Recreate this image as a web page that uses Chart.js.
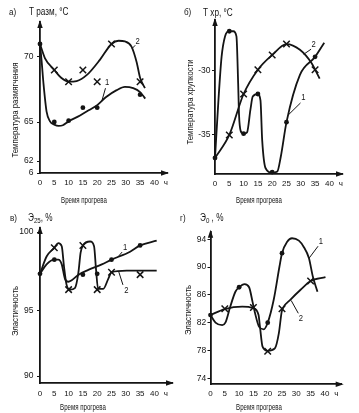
<!DOCTYPE html>
<html>
<head>
<meta charset="utf-8">
<script src="https://cdn.jsdelivr.net/npm/chart.js@4.4.1/dist/chart.umd.min.js"></script>
<style>
html,body{margin:0;padding:0;background:#fff;}
#wrap{position:relative;width:359px;height:413px;overflow:hidden;background:#fff;}
#wrap canvas{position:absolute;left:0;top:0;}
</style>
</head>
<body>
<div id="wrap">
<canvas id="cA" width="359" height="413"></canvas>
<canvas id="cB" width="359" height="413"></canvas>
<canvas id="cC" width="359" height="413"></canvas>
<canvas id="cD" width="359" height="413"></canvas>
</div>
<script>
// ---------- DATA ----------
const xTickVals = [0, 5, 10, 15, 20, 25, 30, 35, 40, 44];
const xTickText = ['0', '5', '10', '15', '20', '25', '30', '35', '40', 'ч'];

// а) Т разм
const aYTicks = [61.08, 62, 65, 70];
const aYText = ['6', '62', '65', '70'];
const aDotsX = [0, 5, 10, 15, 20, 35];
const aDotsY = [71.0, 65.0, 65.1, 66.1, 66.1, 67.1];
const aCrossX = [5, 10, 15, 20, 25, 35];
const aCrossY = [69.0, 68.1, 69.0, 68.1, 71.0, 68.1];
const aLine1X = [0, 0.6, 1.2, 2.3, 3.5, 5, 6.5, 8, 10, 14, 17, 20, 23, 26.8, 29.7, 32.6, 35, 36.8];
const aLine1Y = [71.0, 69.6, 68.0, 65.8, 65.05, 64.8, 64.7, 64.75, 65.05, 65.5, 65.9, 66.3, 66.9, 67.45, 67.7, 67.6, 67.3, 66.8];
const aLine2X = [0, 1.75, 5, 7.4, 10, 12.8, 16.3, 21, 25, 27.5, 29.7, 32, 33.8, 35, 36.7];
const aLine2Y = [71.0, 69.9, 69.0, 68.4, 68.1, 68.15, 68.6, 69.8, 71.0, 71.25, 71.2, 70.8, 69.6, 68.4, 67.6];

// б) Т хр
const bYTicks = [-35, -30];
const bYText = ['-35', '-30'];
const bDotsX = [0, 5, 10, 15, 20, 25, 35];
const bDotsY = [-36.8, -26.9, -34.9, -31.8, -37.9, -34.0, -28.9];
const bCrossX = [5, 10, 15, 20, 25, 35];
const bCrossY = [-35.0, -31.8, -29.9, -28.75, -27.9, -29.9];
const bLine1X = [0, 1.2, 2.3, 3.5, 5, 6.4, 7.5, 8.1, 8.4, 9, 10, 11.2, 12.4, 13.2, 15, 15.9, 16.5, 17.7, 20, 21.8, 23, 25, 29.7, 35, 38.2];
const bLine1Y = [-36.8, -32.3, -28.9, -27.3, -26.9, -26.9, -27.3, -31.0, -33.4, -34.7, -34.9, -34.8, -33.0, -32.0, -31.8, -32.3, -35.4, -37.6, -37.95, -37.85, -36.7, -34.0, -30.3, -28.9, -27.8];
const bLine2X = [0, 5, 10, 15, 20, 25, 29.7, 33.8, 35, 36.6];
const bLine2Y = [-36.8, -35.0, -31.8, -29.9, -28.75, -27.9, -28.35, -29.4, -29.9, -30.6];

// в) Э25
const cYTicks = [90, 95, 100];
const cYText = ['90', '95', '100'];
const cDotsX = [0, 5, 15, 20, 25, 35];
const cDotsY = [97.35, 98.25, 97.3, 97.35, 98.25, 99.15];
const cCrossX = [5, 10, 15, 20, 25, 35];
const cCrossY = [99.0, 96.35, 99.15, 96.35, 97.45, 97.3];
const cLine1X = [0, 2.3, 5, 6.4, 7.6, 8.7, 9.9, 11.1, 13.5, 16.9, 21.6, 25, 31.5, 35, 40.8];
const cLine1Y = [97.35, 97.95, 98.25, 98.25, 97.95, 97.05, 96.85, 96.95, 97.3, 97.6, 97.95, 98.25, 98.75, 99.15, 99.45];
const cLine2X = [0, 2.3, 5, 6.4, 7.6, 8.4, 9.3, 10.5, 12.2, 13.4, 14.2, 15, 17.5, 18.9, 19.6, 20.3, 22.1, 23.9, 25, 30.3, 40.8];
const cLine2Y = [97.35, 98.45, 99.0, 99.3, 99.1, 97.8, 96.65, 96.35, 96.45, 97.4, 98.7, 99.15, 99.4, 99.1, 97.6, 96.4, 96.4, 97.05, 97.45, 97.55, 97.55];

// г) Э0
const dYTicks = [74, 78, 82, 86, 90, 94];
const dYText = ['74', '78', '82', '86', '90', '94'];
const dDotsX = [0, 10, 20, 25];
const dDotsY = [83.1, 87.1, 82.0, 92.0];
const dCrossX = [5, 15, 20, 25, 35];
const dCrossY = [84.0, 84.2, 77.9, 84.0, 88.0];
const dLine1X = [0, 1.75, 4.1, 5.2, 6.9, 8.7, 10, 11.9, 13.5, 14.7, 15.5, 17, 18.6, 20, 22.1, 24.1, 25, 26.8, 28.5, 30.9, 32.6, 34.4, 35.8, 37.4];
const dLine1Y = [83.1, 82.0, 81.65, 82.0, 84.3, 86.45, 87.1, 87.55, 87.1, 85.0, 83.5, 81.4, 81.05, 82.0, 85.3, 90.05, 92.0, 93.65, 94.15, 93.8, 92.9, 91.3, 88.6, 86.45];
const dLine2X = [0, 5, 11.1, 15, 16.8, 17.3, 18.2, 20, 22.5, 23.9, 24.9, 25.6, 27.9, 31.4, 35, 40.2];
const dLine2Y = [83.1, 83.95, 84.3, 84.1, 83.1, 81.4, 78.55, 77.95, 78.3, 80.5, 83.6, 84.3, 85.3, 86.7, 88.0, 88.55];

// ---------- STYLE / LAYOUT ----------
const INK = '#141414';
const FONT = "'Liberation Sans','Arimo',Arial,sans-serif";
Chart.defaults.font.family = FONT;
Chart.defaults.color = INK;

// piecewise value->position anchors for the hand-drawn axis of panel в
const PIECE = { cC: [[90, 0.045], [95, 0.465], [100, 0.974]] };

class PiecewiseScale extends Chart.LinearScale {
  static id = 'piecewise';
  static defaults = {};
  _dec(v) {
    const a = PIECE[this.chart.canvas.id];
    let i = 1;
    while (i < a.length - 1 && v > a[i][0]) i++;
    const [v0, d0] = a[i - 1], [v1, d1] = a[i];
    return d0 + (v - v0) * (d1 - d0) / (v1 - v0);
  }
  getPixelForValue(value) {
    if (value === null || value === undefined || isNaN(value)) return NaN;
    return this.getPixelForDecimal(this._dec(value));
  }
  getValueForPixel(pixel) {
    const d = this.getDecimalForPixel(pixel);
    const a = PIECE[this.chart.canvas.id];
    let i = 1;
    while (i < a.length - 1 && d > a[i][1]) i++;
    const [v0, d0] = a[i - 1], [v1, d1] = a[i];
    return v0 + (d - d0) * (v1 - v0) / (d1 - d0);
  }
}
Chart.register(PiecewiseScale);

const zip = (xs, ys) => xs.map((x, i) => ({ x, y: ys[i] }));

// condensed text helper (horizontal squeeze like the scanned narrow type)
function ctext(ctx, txt, x, y, size, sx, align, rot) {
  ctx.save();
  ctx.font = size + 'px ' + FONT;
  ctx.textAlign = align; ctx.textBaseline = 'middle';
  ctx.translate(x, y);
  if (rot) ctx.rotate(rot);
  ctx.scale(sx, 1);
  ctx.fillText(txt, 0, 0);
  const w = ctx.measureText(txt).width * sx;
  ctx.restore();
  return w;
}

const DECO = {
  cA: { letter: 'а)', lp: [9, 12], unit: [['Т разм, °С', 0]], up: [29, 12],
        yTitle: 'Температура размягчения', ytp: [15, 110], xTitle: 'Время прогрева', xtp: [84, 201],
        labels: [ { t: '1', at: [23.5, 68.0], from: [22.9, 67.6], to: [21.6, 66.6] },
                  { t: '2', at: [34.1, 71.2], from: [33.3, 70.9], to: [32.2, 70.65] } ] },
  cB: { letter: 'б)', lp: [184, 12], unit: [['Т хр, °С', 0]], up: [203, 13],
        yTitle: 'Температура хрупкости', ytp: [190, 102], xTitle: 'Время прогрева', xtp: [259, 201],
        labels: [ { t: '1', at: [30.9, -32.1], from: [29.9, -32.5], to: [25.8, -33.4] },
                  { t: '2', at: [34.5, -27.95], from: [33.6, -28.3], to: [31.0, -28.7] } ] },
  cC: { letter: 'в)', lp: [10, 218], unit: [['Э', 0], ['25', 1], [', %', 0]], up: [28, 218],
        yTitle: 'Эластичность', ytp: [15, 311], xTitle: 'Время прогрева', xtp: [83, 408],
        labels: [ { t: '1', at: [29.8, 99.0], from: [28.7, 98.73], to: [26.9, 98.35] },
                  { t: '2', at: [30.2, 96.3], from: [29.0, 96.65], to: [27.5, 97.5] } ] },
  cD: { letter: 'г)', lp: [180, 218], unit: [['Э', 0], ['0', 1], [' , %', 0]], up: [200, 218],
        yTitle: 'Эластичность', ytp: [188, 310], xTitle: 'Время прогрева', xtp: [259, 408],
        labels: [ { t: '1', at: [38.6, 93.7], from: [37.6, 93.0], to: [34.5, 91.3] },
                  { t: '2', at: [31.6, 82.6], from: [30.7, 83.35], to: [28.2, 85.2] } ] }
};

const deco = {
  id: 'deco',
  afterDraw(chart) {
    const d = DECO[chart.canvas.id];
    const ctx = chart.ctx;
    const { left, right, top, bottom } = chart.chartArea;
    const xs = chart.scales.x, ys = chart.scales.y;
    ctx.save();
    ctx.fillStyle = INK; ctx.strokeStyle = INK;
    // arrow heads
    ctx.beginPath(); ctx.moveTo(left, top - 2); ctx.lineTo(left - 2.7, top + 6); ctx.lineTo(left + 2.7, top + 6); ctx.closePath(); ctx.fill();
    ctx.beginPath(); ctx.moveTo(right + 2, bottom); ctx.lineTo(right - 6, bottom - 2.7); ctx.lineTo(right - 6, bottom + 2.7); ctx.closePath(); ctx.fill();
    // panel letter
    ctext(ctx, d.letter, d.lp[0], d.lp[1], 9.5, 0.85, 'left');
    // unit label with optional subscript
    let ux = d.up[0];
    for (const [txt, sub] of d.unit) {
      ux += ctext(ctx, txt, ux, d.up[1] + (sub ? 3 : 0), sub ? 7.5 : 10, 0.82, 'left');
    }
    // axis titles
    ctext(ctx, d.xTitle, d.xtp[0], d.xtp[1], 8.5, 0.72, 'center');
    ctext(ctx, d.yTitle, d.ytp[0], d.ytp[1], 9.5, 0.82, 'center', -Math.PI / 2);
    // curve labels with leaders
    ctx.lineWidth = 1;
    for (const l of d.labels) {
      ctext(ctx, l.t, xs.getPixelForValue(l.at[0]), ys.getPixelForValue(l.at[1]), 9, 0.85, 'center');
      ctx.beginPath();
      ctx.moveTo(xs.getPixelForValue(l.from[0]), ys.getPixelForValue(l.from[1]));
      ctx.lineTo(xs.getPixelForValue(l.to[0]), ys.getPixelForValue(l.to[1]));
      ctx.stroke();
    }
    ctx.restore();
  }
};

function curve(pts) {
  return { data: pts, showLine: true, pointRadius: 0, borderColor: INK, borderWidth: 1.8,
           cubicInterpolationMode: 'monotone', fill: false, clip: false };
}
function dots(pts) {
  return { data: pts, showLine: false, pointStyle: 'circle', pointRadius: 2.4,
           backgroundColor: INK, borderColor: INK, borderWidth: 0, clip: false };
}
function crosses(pts) {
  return { data: pts, showLine: false, pointStyle: 'crossRot', pointRadius: 4.6,
           backgroundColor: INK, borderColor: INK, borderWidth: 1.5, clip: false };
}

const PANELS = [
  { id: 'cA', area: { l: 40, r: 167, t: 22, b: 173 }, xMax: 44.41, yMin: 61.08, yMax: 72.69,
    yTicks: aYTicks, yText: aYText, yGap: 3.5, xGap: 5,
    sets: [curve(zip(aLine1X, aLine1Y)), curve(zip(aLine2X, aLine2Y)), dots(zip(aDotsX, aDotsY)), crosses(zip(aCrossX, aCrossY))] },
  { id: 'cB', area: { l: 215, r: 342, t: 20, b: 174 }, xMax: 44.41, yMin: -38.05, yMax: -26.02,
    yTicks: bYTicks, yText: bYText, yGap: 1.5, xGap: 5,
    sets: [curve(zip(bLine1X, bLine1Y)), curve(zip(bLine2X, bLine2Y)), dots(zip(bDotsX, bDotsY)), crosses(zip(bCrossX, bCrossY))] },
  { id: 'cC', area: { l: 40, r: 172, t: 228, b: 383 }, xMax: 46.15, yMin: 89.46, yMax: 100.26, yType: 'piecewise',
    yTicks: cYTicks, yText: cYText, yGap: 3.5, xGap: 6,
    sets: [curve(zip(cLine1X, cLine1Y)), curve(zip(cLine2X, cLine2Y)), dots(zip(cDotsX, cDotsY)), crosses(zip(cCrossX, cCrossY))] },
  { id: 'cD', area: { l: 210.5, r: 341.7, t: 231.7, b: 384.3 }, xMax: 45.87, yMin: 73.14, yMax: 95.09,
    yTicks: dYTicks, yText: dYText, yGap: 1.2, xGap: 5,
    sets: [curve(zip(dLine1X, dLine1Y)), curve(zip(dLine2X, dLine2Y)), dots(zip(dDotsX, dDotsY)), crosses(zip(dCrossX, dCrossY))] }
];

const WY = 30, HX = 20;
for (const p of PANELS) {
  new Chart(document.getElementById(p.id), {
    type: 'scatter',
    data: { datasets: p.sets },
    options: {
      responsive: false, animation: false, devicePixelRatio: 1, events: [],
      layout: { padding: { left: p.area.l - WY, top: p.area.t, right: 359 - p.area.r, bottom: 413 - p.area.b - HX } },
      plugins: { legend: { display: false }, tooltip: { enabled: false }, title: { display: false } },
      scales: {
        x: {
          type: 'linear', min: 0, max: p.xMax,
          afterFit: s => { s.height = HX; },
          afterBuildTicks: s => { s.ticks = xTickVals.map(v => ({ value: v })); },
          ticks: { callback: (v, i) => xTickText[i], padding: p.xGap, font: { size: 8 }, color: INK,
                   autoSkip: false, maxRotation: 0, minRotation: 0 },
          grid: { display: true, drawOnChartArea: false, drawTicks: false },
          border: { display: true, color: INK, width: 1.8 }
        },
        y: {
          type: p.yType || 'linear', min: p.yMin, max: p.yMax,
          afterFit: s => { s.width = WY; },
          afterBuildTicks: s => { s.ticks = p.yTicks.map(v => ({ value: v })); },
          ticks: { callback: (v, i) => p.yText[i], padding: p.yGap, font: { size: 8.5 }, color: INK, autoSkip: false },
          grid: { display: true, drawOnChartArea: false, drawTicks: true, tickLength: 3, color: INK, lineWidth: 1 },
          border: { display: true, color: INK, width: 1.8 }
        }
      }
    },
    plugins: [deco]
  });
}
</script>
</body>
</html>
